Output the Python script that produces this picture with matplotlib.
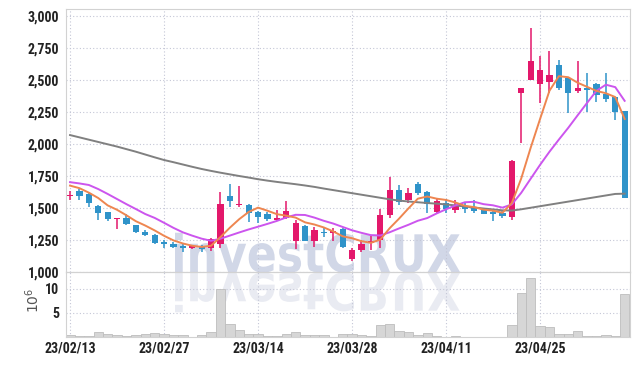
import numpy as np
import pandas as pd
import matplotlib.pyplot as plt
from matplotlib import font_manager as fm
from matplotlib.textpath import TextPath
from matplotlib.patches import PathPatch
from matplotlib.font_manager import FontProperties
from matplotlib.transforms import Affine2D

# daily prices (trading-day index 0..59)
opens = [1595, 1630, 1610, 1515, 1470, 1415, 1420, 1365, 1315, 1290,
         1235, 1215, 1205, 1190, 1200, 1185, 1220, 1595, 1525, 1525,
         1465, 1450, 1405, 1420, 1245, 1360, 1245, 1315, 1305, 1335,
         1100, 1170, 1225, 1250, 1445, 1640, 1565, 1690, 1625, 1470,
         1540, 1485, 1515, 1500, 1490, 1465, 1460, 1430, 2400, 2500,
         2470, 2485, 2615, 2515, 2415, 2440, 2470, 2390, 2365, 2255]
closes = [1598, 1590, 1540, 1460, 1415, 1425, 1375, 1310, 1290, 1225,
          1215, 1195, 1190, 1200, 1180, 1260, 1535, 1555, 1535, 1460,
          1430, 1415, 1420, 1475, 1385, 1245, 1330, 1305, 1320, 1195,
          1170, 1215, 1240, 1445, 1640, 1545, 1615, 1620, 1530, 1555,
          1495, 1515, 1490, 1480, 1455, 1455, 1435, 1870, 2440, 2650,
          2580, 2540, 2440, 2400, 2435, 2420, 2380, 2350, 2250, 1580]
highs = [1630, 1650, 1620, 1525, 1470, 1425, 1455, 1370, 1330, 1300,
         1250, 1235, 1225, 1205, 1210, 1265, 1625, 1690, 1670, 1530,
         1480, 1470, 1485, 1555, 1405, 1370, 1355, 1345, 1345, 1340,
         1185, 1250, 1280, 1490, 1740, 1680, 1655, 1705, 1635, 1575,
         1570, 1560, 1545, 1560, 1495, 1480, 1480, 1875, 2440, 2905,
         2690, 2725, 2660, 2520, 2650, 2555, 2480, 2555, 2370, 2255]
lows = [1560, 1560, 1510, 1405, 1400, 1335, 1370, 1305, 1280, 1220,
        1190, 1185, 1160, 1180, 1160, 1165, 1190, 1510, 1510, 1390,
        1385, 1395, 1395, 1415, 1180, 1240, 1195, 1275, 1245, 1190,
        1085, 1155, 1170, 1185, 1420, 1525, 1540, 1600, 1460, 1460,
        1460, 1460, 1460, 1460, 1450, 1400, 1420, 1410, 2010, 2500,
        2320, 2400, 2420, 2240, 2400, 2250, 2330, 2330, 2190, 1580]
# volume in millions
volume = [0.5, 0.2, 0.3, 1.1, 0.55, 0.5, 0.15, 0.5, 0.55, 0.9,
          0.7, 0.35, 0.5, 0.1, 0.35, 1.1, 9.9, 2.8, 1.4, 0.55,
          0.55, 0.3, 0.3, 0.55, 1.1, 0.5, 0.5, 0.5, 0.1, 0.55,
          0.7, 0.5, 0.15, 2.4, 2.65, 1.2, 1.0, 0.35, 0.8, 0.15,
          0.1, 0.3, 0.1, 0.1, 0.1, 0.1, 0.1, 2.45, 9.1, 12.2,
          2.25, 2.0, 0.7, 0.7, 1.3, 0.3, 0.3, 0.5, 0.3, 8.9]

# moving average values before the window fills
ma5_lead = [1675, 1655, 1620, 1578]
ma10_lead = [1702, 1692, 1680, 1648, 1610, 1570, 1530, 1492, 1453]
ma60 = [2070, 2052, 2034, 2016, 1998, 1980, 1960, 1940, 1918, 1896,
        1875, 1858, 1840, 1822, 1805, 1790, 1776, 1763, 1750, 1738,
        1725, 1714, 1704, 1695, 1686, 1676, 1665, 1652, 1640, 1628,
        1616, 1604, 1592, 1580, 1568, 1558, 1551, 1545, 1539, 1534,
        1528, 1520, 1512, 1504, 1496, 1489, 1482, 1480, 1490, 1502,
        1514, 1526, 1538, 1550, 1562, 1574, 1586, 1598, 1610, 1612]

date_labels = ["23/02/13", "23/02/27", "23/03/14", "23/03/28", "23/04/11", "23/04/25"]
date_pos = [0, 10, 20, 30, 40, 50]

UP = "#e3186b"
DOWN = "#2f93c9"
GRID = "#c4c6d6"
SPINE = "#d2d2d2"

# pick a narrow font if one is installed
installed = {f.name for f in fm.fontManager.ttflist}
FONT, FS = "DejaVu Sans", 8.5
for name, size in [("Liberation Sans Narrow", 10), ("Roboto Condensed", 10),
                   ("Open Sans Condensed", 10), ("Roboto", 9)]:
    if name in installed:
        FONT, FS = name, size
        break

n = len(closes)
x = np.arange(n)
o = np.array(opens)
c = np.array(closes)
cs = pd.Series(closes, dtype=float)
ma5 = cs.rolling(5).mean().to_numpy()
ma5[:4] = ma5_lead
ma10 = cs.rolling(10).mean().to_numpy()
ma10[:9] = ma10_lead

W, H = 639, 366
fig = plt.figure(figsize=(W / 100, H / 100), dpi=100)
ax = fig.add_axes([66 / W, 1 - 272 / H, (630 - 66) / W, (272 - 9) / H])
axv = fig.add_axes([66 / W, 1 - 337 / H, (630 - 66) / W, (337 - 272) / H], sharex=ax)
for a in (ax, axv):
    a.set_facecolor("none")
    for s in a.spines.values():
        s.set_color(SPINE)
        s.set_linewidth(0.8)
    a.tick_params(length=0)
    a.grid(True, color=GRID, linestyle=(0, (1, 2)), linewidth=0.8)
    a.set_axisbelow(True)

# watermark and its reflection
fp = FontProperties(family="DejaVu Sans", weight="bold")
tp = TextPath((0, 0), "investCRUX", prop=fp, size=100)
ext = tp.get_extents()
sx = (460 - 175) / ext.width
sy = 40 / ext.height
to_fig = Affine2D().scale(1 / W, 1 / H) + fig.transFigure
main_tr = Affine2D().translate(-ext.x0, 0).scale(sx, sy).translate(175, H - 272)
refl_tr = Affine2D().translate(-ext.x0, 0).scale(sx, -sy).translate(175, H - 273)
fig.patches.append(PathPatch(tp, transform=main_tr + to_fig, facecolor="#c9d0e3",
                             edgecolor="none", alpha=0.85, zorder=-1))
fig.patches.append(PathPatch(tp, transform=refl_tr + to_fig, facecolor="#e6e8f0",
                             edgecolor="none", alpha=0.85, zorder=-1))

# candles
colors = [UP if cl >= op else DOWN for op, cl in zip(opens, closes)]
ax.vlines(x, lows, highs, colors=colors, linewidth=1.1, zorder=2)
body_low = np.minimum(o, c)
body_h = np.maximum(np.abs(c - o), 8)
ax.bar(x, body_h, bottom=body_low, width=0.66, color=colors, linewidth=0, zorder=3)

ax.plot(x, ma60, color="#808080", linewidth=1.4, zorder=4)
ax.plot(x, ma10, color="#cc55ee", linewidth=1.4, zorder=4)
ax.plot(x, ma5, color="#ee8650", linewidth=1.4, zorder=5)

ax.set_xlim(-0.43, 59.57)
ax.set_ylim(1000, 3055)
yt = np.arange(1000, 3001, 250)
ax.set_yticks(yt)
ax.set_yticklabels([f"{v:,}" for v in yt], fontsize=FS, fontweight="bold",
                   family=FONT, color="#222222")
ax.tick_params(axis="y", pad=5)
plt.setp(ax.get_xticklabels(), visible=False)

axv.bar(x, volume, width=1.0, color="#d6d6d6", edgecolor="#bdbdbd", linewidth=0.6, zorder=2)
axv.set_ylim(0, 13.5)
axv.set_yticks([5, 10])
axv.set_yticklabels(["5", "10"], fontsize=FS, fontweight="bold", family=FONT, color="#222222")
axv.tick_params(axis="y", pad=5)
axv.set_xticks(date_pos)
axv.set_xticklabels(date_labels, fontsize=FS, fontweight="bold", family=FONT, color="#222222")
axv.tick_params(axis="x", pad=3)
fig.text(33 / W, 1 - 300 / H, "$10^6$", rotation=90, ha="center", va="center",
         fontsize=10, color="#555555")

fig.savefig("out.png", dpi=100)
